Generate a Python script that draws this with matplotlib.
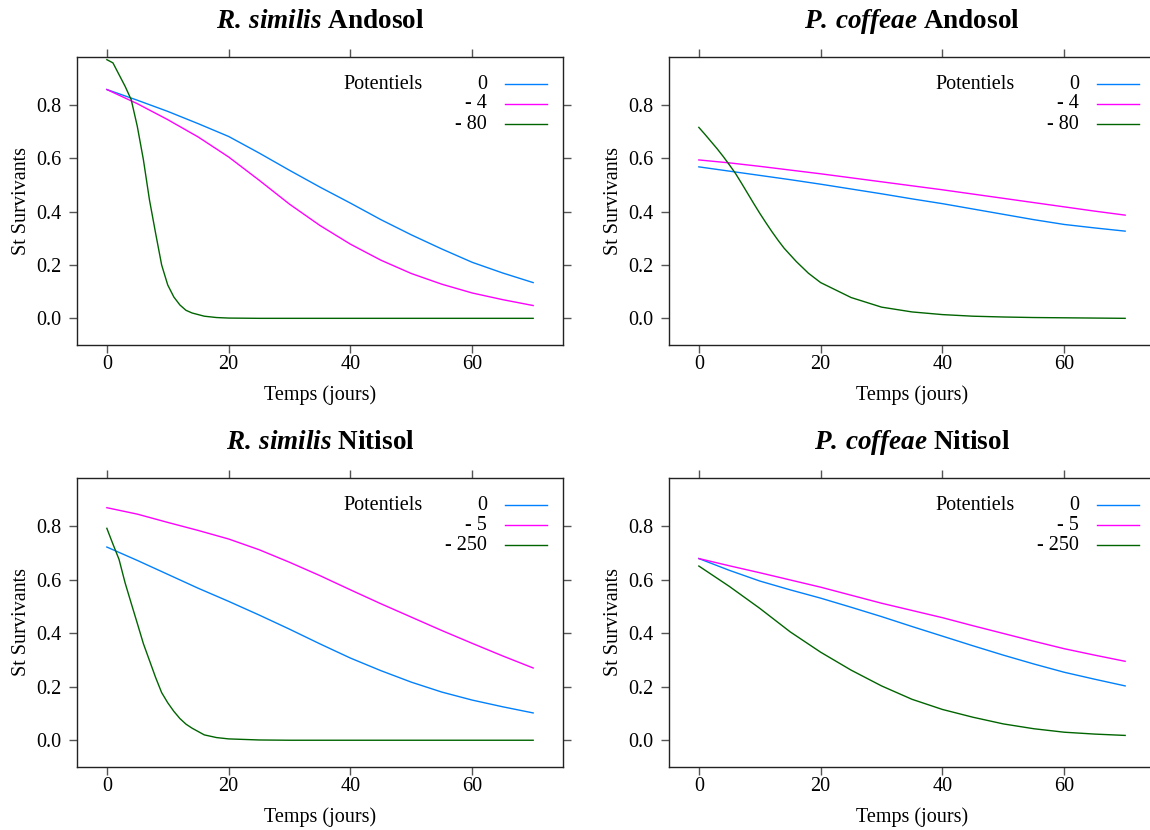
import numpy as np
import matplotlib
matplotlib.use("Agg")
import matplotlib.pyplot as plt

plt.rcParams['font.family'] = ['Liberation Serif', 'DejaVu Serif']
plt.rcParams['mathtext.fontset'] = 'custom'
plt.rcParams['mathtext.rm'] = 'Liberation Serif:bold'
plt.rcParams['mathtext.bf'] = 'Liberation Serif:bold'
plt.rcParams['mathtext.bfit'] = 'Liberation Serif:italic:bold'
plt.rcParams['mathtext.it'] = 'Liberation Serif:italic:bold'

# time grids (jours)
days = [0, 5, 10, 15, 20, 25, 30, 35, 40, 45, 50, 55, 60, 65, 70]
days_fast = [0, 1, 2, 3, 4, 5, 6, 7, 8, 9, 10, 11, 12, 13, 14, 16, 18, 20,
             25, 30, 35, 40, 45, 50, 55, 60, 65, 70]

# R. similis Andosol
rs_and_0 = [0.858, 0.818, 0.776, 0.730, 0.682, 0.620, 0.555, 0.492, 0.432,
            0.370, 0.313, 0.260, 0.210, 0.170, 0.134]
rs_and_4 = [0.858, 0.805, 0.745, 0.680, 0.605, 0.518, 0.428, 0.348, 0.278,
            0.218, 0.168, 0.128, 0.095, 0.070, 0.048]
rs_and_80 = [0.970, 0.958, 0.914, 0.870, 0.820, 0.720, 0.595, 0.444, 0.320,
             0.200, 0.125, 0.080, 0.050, 0.030, 0.020, 0.008, 0.003, 0.001,
             0.0, 0.0, 0.0, 0.0, 0.0, 0.0, 0.0, 0.0, 0.0, 0.0]

# P. coffeae Andosol
pc_and_0 = [0.568, 0.552, 0.536, 0.520, 0.503, 0.485, 0.467, 0.448, 0.430,
            0.410, 0.390, 0.370, 0.352, 0.339, 0.327]
pc_and_4 = [0.594, 0.583, 0.570, 0.556, 0.542, 0.527, 0.512, 0.497, 0.482,
            0.466, 0.450, 0.434, 0.418, 0.402, 0.387]
pc_and_80 = [0.716, 0.690, 0.663, 0.636, 0.607, 0.576, 0.544, 0.507, 0.469,
             0.431, 0.394, 0.359, 0.325, 0.293, 0.263, 0.213, 0.169, 0.134,
             0.078, 0.042, 0.024, 0.014, 0.008, 0.005, 0.003, 0.002, 0.001, 0.0]

# R. similis Nitisol
rs_nit_0 = [0.722, 0.672, 0.620, 0.568, 0.519, 0.468, 0.415, 0.360, 0.307,
            0.260, 0.217, 0.180, 0.150, 0.125, 0.102]
rs_nit_5 = [0.869, 0.845, 0.814, 0.784, 0.752, 0.712, 0.665, 0.615, 0.562,
            0.510, 0.460, 0.410, 0.362, 0.315, 0.270]
rs_nit_250 = [0.792, 0.733, 0.676, 0.588, 0.512, 0.437, 0.361, 0.298, 0.235,
              0.178, 0.140, 0.108, 0.081, 0.060, 0.045, 0.020, 0.010, 0.005,
              0.001, 0.0, 0.0, 0.0, 0.0, 0.0, 0.0, 0.0, 0.0, 0.0]

# P. coffeae Nitisol
pc_nit_0 = [0.679, 0.635, 0.595, 0.562, 0.531, 0.497, 0.462, 0.425, 0.389,
            0.353, 0.318, 0.285, 0.254, 0.228, 0.203]
pc_nit_5 = [0.679, 0.652, 0.626, 0.599, 0.572, 0.542, 0.512, 0.485, 0.458,
            0.428, 0.399, 0.370, 0.342, 0.318, 0.295]
pc_nit_250 = [0.651, 0.575, 0.493, 0.405, 0.329, 0.262, 0.203, 0.153, 0.115,
              0.086, 0.061, 0.043, 0.030, 0.023, 0.018]

colors = ['#0080ff', '#ff00ff', '#006400']

panels = [
    (r'$\mathbfit{R.\,similis}$ Andosol', ['0', '- 4', '- 80'],
     [(days, rs_and_0), (days, rs_and_4), (days_fast, rs_and_80)]),
    (r'$\mathbfit{P.\,coffeae}$ Andosol', ['0', '- 4', '- 80'],
     [(days, pc_and_0), (days, pc_and_4), (days_fast, pc_and_80)]),
    (r'$\mathbfit{R.\,similis}$ Nitisol', ['0', '- 5', '- 250'],
     [(days, rs_nit_0), (days, rs_nit_5), (days_fast, rs_nit_250)]),
    (r'$\mathbfit{P.\,coffeae}$ Nitisol', ['0', '- 5', '- 250'],
     [(days, pc_nit_0), (days, pc_nit_5), (days, pc_nit_250)]),
]

fig = plt.figure(figsize=(11.5, 8.3), dpi=100)
positions = [
    [77 / 1150, 1 - 345 / 830, 486 / 1150, 288 / 830],
    [669 / 1150, 1 - 345 / 830, 486 / 1150, 288 / 830],
    [77 / 1150, 1 - 767 / 830, 486 / 1150, 289 / 830],
    [669 / 1150, 1 - 767 / 830, 486 / 1150, 289 / 830],
]

for pos, (title, labels, series) in zip(positions, panels):
    ax = fig.add_axes(pos)
    for (x, y), c in zip(series, colors):
        ax.plot(x, y, color=c, lw=1.0)
    ax.set_xlim(-4.9, 74.9)
    ax.set_ylim(-0.10, 0.98)
    ax.set_xticks([0, 20, 40, 60])
    ax.set_yticks([0.0, 0.2, 0.4, 0.6, 0.8])
    ax.set_yticklabels(['0.0', '0.2', '0.4', '0.6', '0.8'])
    ax.tick_params(direction='out', length=6, width=1, labelsize=14.5,
                   top=True, right=True, color='#555555')
    ax.tick_params(axis='x', pad=1)
    ax.tick_params(axis='y', pad=5)
    for s in ax.spines.values():
        s.set_linewidth(1.0)
        s.set_color('#222222')
    ax.set_xlabel('Temps (jours)', fontsize=14.5, labelpad=8)
    ax.set_ylabel('St Survivants', fontsize=14.5, labelpad=4)
    ax.set_title(title, fontsize=19.5, fontweight='bold', pad=21)

    # legend
    ax.text(0.63, 0.906, 'Potentiels', transform=ax.transAxes, fontsize=14.5,
            ha='center', va='center')
    rows = [0.906, 0.837, 0.767]
    for lab, c, yr in zip(labels, colors, rows):
        ax.text(0.844, yr, lab, transform=ax.transAxes, fontsize=14.5,
                ha='right', va='center')
        ax.plot([0.881, 0.967], [yr, yr], transform=ax.transAxes,
                color=c, lw=1.0, clip_on=False)

fig.savefig('out.png', dpi=100)
